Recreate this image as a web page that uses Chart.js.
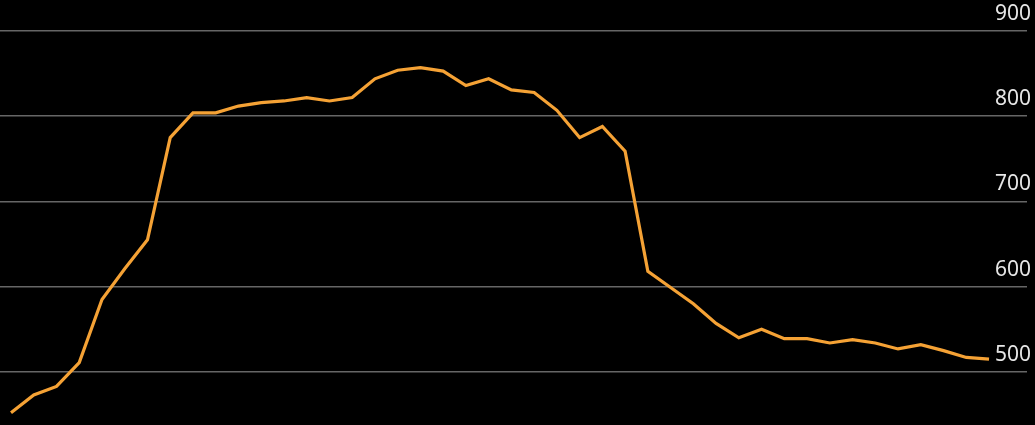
<!DOCTYPE html>
<html>
<head>
<meta charset="utf-8">
<script src="https://cdn.jsdelivr.net/npm/chart.js@4.4.0/dist/chart.umd.min.js"></script>
<style>
  html, body { margin: 0; padding: 0; background: #000; }
  #wrap { width: 1035px; height: 425px; position: relative; }
</style>
</head>
<body>
<div id="wrap"><canvas id="chart"></canvas></div>
<script>
// values, one per period
const values = [
  452, 473, 483, 511, 585, 621, 655, 775, 804, 804,
  812, 816, 818, 822, 818, 822, 844, 854, 857, 853,
  836, 844, 831, 828, 807, 775, 788, 759, 618, 599,
  580, 557, 540, 550, 539, 539, 534, 538, 534, 527,
  532, 525, 517, 515
];
const yTicks = [500, 600, 700, 800, 900];

const points = values.map((v, i) => ({ x: i, y: v }));

const ctx = document.getElementById('chart').getContext('2d');
new Chart(ctx, {
    type: 'line',
    data: {
        datasets: [{
            data: points,
            borderColor: '#f5a235',
            borderWidth: 3.2,
            pointRadius: 0,
            tension: 0,
            fill: false,
            clip: false
        }]
    },
    options: {
        responsive: true,
        maintainAspectRatio: false,
        animation: false,
        layout: { padding: 0, autoPadding: false },
        plugins: { legend: { display: false }, tooltip: { enabled: false } },
        scales: {
            x: {
                type: 'linear',
                display: false,
                min: -0.484,
                max: 44.67
            },
            y: {
                position: 'right',
                min: 457.2,
                max: 917,
                afterBuildTicks: scale => { scale.ticks = yTicks.map(v => ({ value: v })); },
                grid: { color: '#666666', lineWidth: 1.6, drawTicks: false },
                border: { display: false },
                ticks: {
                    mirror: true,
                    padding: 4,
                    labelOffset: -17,
                    color: '#e6e6e6',
                    font: { family: 'Noto Sans', size: 21 }
                }
            }
        }
    }
});
</script>
</body>
</html>
